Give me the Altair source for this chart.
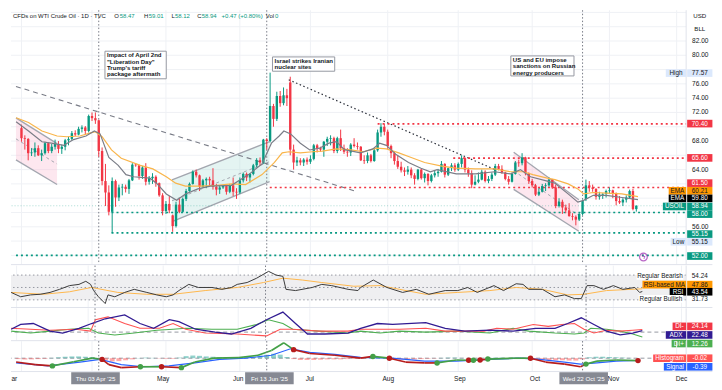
import altair as alt
import pandas as pd

# ============================== DATA ==============================
# One candle per weekday, Mon 3 Mar 2025 ... Thu 13 Nov 2025 (CFD trades on US holidays)
# bar index 0 = Thu 03 Apr 2025
first_bar = -23

opens = [
    69.8, 68.4, 68.3, 66.3, 66.4, 67.0, 66.0, 66.3, 67.7, 66.6, 67.2, 67.6, 66.9, 67.2, 68.1, 68.3, 69.1, 68.9, 69.7, 69.9, 69.4,
    71.5, 71.2, 70.9, 66.6, 62.4, 60.8, 58.1, 62.4, 60.1, 61.5, 61.6, 61.3, 62.5, 64.7, 64.6, 63.1, 64.3, 62.3, 62.8, 63.0, 62.1, 60.4,
    58.2, 59.2, 57.6, 56.1, 59.1, 58.1, 59.9, 61.0, 62.0, 63.7, 63.2, 61.6, 62.5, 62.7, 62.5, 61.6, 61.2, 61.5, 61.7, 60.9, 61.8, 60.9,
    60.8, 62.5, 63.4, 62.9, 63.4, 64.6, 65.3, 65.0, 68.2, 68.0, 72.9, 71.1, 74.3, 73.3, 74.4, 76.2, 66.8, 65.0, 65.3, 65.0, 65.4,
    65.1, 65.5, 67.4, 67.0, 66.8, 67.9, 68.3, 68.4, 66.6, 68.4, 67.0, 66.5, 66.4, 67.5, 67.3, 67.2, 65.3, 65.2, 66.0, 65.2, 66.7, 69.2, 70.0,
    69.3, 67.3, 66.3, 65.2, 64.4, 63.9, 63.7, 64.0, 63.2, 62.7, 64.0, 62.8, 63.4, 62.4, 63.2, 63.5, 63.7, 64.8, 63.3, 64.2, 64.6,
    64.0, 64.8, 65.6, 64.0, 63.5, 61.9, 62.3, 62.6, 63.7, 62.4, 62.7, 63.3, 64.5, 64.1, 63.6, 62.7, 62.3, 63.4, 65.0, 64.9, 65.7, 63.5,
    62.4, 61.8, 60.5, 60.9, 61.7, 61.8, 62.6, 61.5, 58.9, 59.5, 58.7, 58.3, 57.5, 57.4, 57.0, 57.8, 59.9, 61.8, 61.5, 61.3, 60.2, 60.5, 60.6,
    61.0, 61.1, 60.6, 59.6, 59.4, 59.8, 60.1, 61.0, 58.47,
]
highs = [
    70.3, 68.8, 68.4, 67.0, 67.8, 67.4, 66.8, 67.9, 67.8, 67.6, 68.2, 68.0, 67.5, 68.3, 68.6, 69.4, 69.5, 70.0, 70.2, 70.1, 71.7,
    72.0, 72.0, 71.0, 67.1, 64.8, 61.8, 62.9, 62.6, 61.9, 62.0, 61.9, 62.7, 64.9, 64.9, 64.7, 64.5, 64.9, 63.1, 63.5, 63.2, 62.2, 60.7,
    59.6, 60.3, 57.7, 59.5, 60.0, 60.1, 61.3, 62.2, 63.9, 64.0, 63.3, 62.7, 62.9, 63.0, 64.2, 62.0, 61.8, 61.8, 61.8, 62.0, 62.9, 61.4,
    62.9, 63.6, 63.6, 63.5, 64.8, 65.6, 65.7, 68.3, 68.4, 77.57, 73.2, 74.9, 75.0, 75.5, 75.3, 77.0, 67.5, 65.8, 65.6, 65.6, 65.7,
    66.0, 67.6, 67.6, 67.2, 68.0, 68.6, 68.8, 68.6, 68.6, 69.6, 67.5, 67.0, 67.7, 68.4, 67.8, 67.3, 66.0, 66.4, 66.2, 67.0, 69.6, 70.5, 70.4,
    69.6, 67.5, 66.5, 66.0, 65.1, 64.3, 64.5, 64.3, 63.5, 64.1, 64.1, 63.6, 63.5, 63.4, 63.9, 64.1, 65.2, 64.9, 64.3, 64.9, 64.9,
    65.0, 66.0, 65.7, 64.3, 63.9, 63.2, 63.6, 64.0, 63.9, 63.1, 63.6, 64.8, 64.8, 64.6, 63.7, 63.1, 63.6, 65.2, 65.4, 66.3, 65.8, 63.6,
    62.7, 62.0, 61.4, 62.0, 62.1, 62.9, 62.7, 61.9, 60.0, 59.8, 59.1, 59.3, 57.9, 57.6, 58.0, 59.8, 62.6, 62.4, 61.9, 61.4, 60.9, 60.7, 61.2,
    61.5, 61.2, 60.8, 60.3, 60.0, 60.4, 61.2, 61.3, 59.01,
]
lows = [
    67.9, 66.8, 65.3, 65.9, 65.8, 65.9, 65.2, 66.1, 66.3, 66.3, 66.8, 66.3, 66.2, 66.7, 67.4, 68.1, 68.7, 68.8, 69.2, 68.9, 69.2,
    70.8, 70.4, 65.8, 61.8, 58.9, 57.6, 55.15, 58.8, 59.6, 60.4, 60.8, 60.6, 62.4, 64.4, 62.6, 62.7, 61.8, 61.9, 62.0, 61.6, 60.2, 57.6,
    57.8, 57.9, 55.3, 55.9, 57.9, 58.0, 59.6, 60.9, 61.9, 62.9, 61.0, 61.5, 61.4, 61.7, 61.2, 60.4, 60.6, 61.3, 60.5, 60.7, 60.3, 59.9,
    60.6, 62.2, 62.4, 62.2, 63.2, 64.3, 64.5, 64.8, 66.8, 67.8, 70.0, 70.8, 72.8, 73.0, 72.9, 66.0, 64.0, 64.5, 64.6, 64.5, 64.7,
    64.8, 65.3, 66.4, 66.5, 65.8, 67.3, 67.4, 66.3, 66.3, 66.6, 66.2, 65.8, 65.9, 67.1, 66.8, 65.2, 64.8, 64.9, 65.0, 65.1, 66.5, 68.6, 68.8,
    66.9, 65.6, 64.7, 64.1, 63.6, 63.1, 63.3, 62.8, 61.9, 62.5, 62.6, 62.2, 61.8, 62.2, 62.9, 63.0, 63.6, 62.9, 63.1, 63.8, 63.7,
    63.8, 64.3, 63.6, 63.0, 61.4, 61.8, 62.1, 62.5, 62.2, 62.1, 62.4, 63.1, 63.9, 63.4, 62.5, 61.9, 62.2, 63.3, 64.4, 64.6, 63.2, 62.0,
    61.5, 60.3, 60.3, 60.8, 61.0, 61.6, 61.3, 58.6, 58.7, 57.8, 57.9, 57.4, 56.9, 56.2, 56.8, 57.6, 59.6, 60.9, 60.9, 59.8, 59.8, 59.9, 60.1,
    60.6, 60.0, 59.0, 59.2, 58.9, 59.4, 59.9, 58.3, 58.12,
]
closes = [
    68.4, 68.3, 66.3, 66.4, 67.0, 66.0, 66.3, 67.7, 66.6, 67.2, 67.6, 66.9, 67.2, 68.1, 68.3, 69.1, 68.9, 69.7, 69.9, 69.4, 71.5,
    71.2, 70.9, 66.6, 62.4, 60.8, 58.1, 62.4, 60.1, 61.5, 61.6, 61.3, 62.5, 64.7, 64.6, 63.1, 64.3, 62.3, 62.8, 63.0, 62.1, 60.4, 58.2,
    59.2, 58.3, 56.1, 59.1, 58.1, 59.9, 61.0, 62.0, 63.7, 63.2, 61.6, 62.5, 62.7, 62.5, 61.6, 61.2, 61.5, 61.7, 60.9, 61.8, 60.9, 60.8,
    62.5, 63.4, 62.9, 63.4, 64.6, 65.3, 65.0, 68.2, 68.0, 72.9, 71.1, 74.3, 73.3, 74.4, 74.0, 66.8, 65.0, 65.3, 65.0, 65.4, 65.1,
    65.5, 67.4, 67.0, 66.8, 67.9, 68.3, 68.4, 66.6, 68.4, 67.0, 66.5, 66.4, 67.5, 67.3, 67.2, 65.3, 65.2, 66.0, 65.2, 66.7, 69.2, 70.0, 69.3,
    67.3, 66.3, 65.2, 64.4, 63.9, 63.7, 64.0, 63.2, 62.7, 64.0, 62.8, 63.4, 62.4, 63.2, 63.5, 63.7, 64.8, 63.3, 64.2, 64.6, 64.0,
    64.8, 65.6, 64.0, 63.5, 61.9, 62.3, 62.6, 63.7, 62.4, 62.7, 63.3, 64.5, 64.1, 63.6, 62.7, 62.3, 63.4, 65.0, 64.9, 65.7, 63.5, 62.4,
    61.8, 60.5, 60.9, 61.7, 61.8, 62.6, 61.5, 58.9, 59.5, 58.7, 58.3, 57.5, 57.4, 57.0, 57.8, 59.6, 61.8, 61.5, 61.3, 60.2, 60.5, 60.6, 61.0,
    61.1, 60.6, 59.6, 59.4, 59.8, 60.1, 61.0, 58.47, 58.94,
]

# EMA lines read at sampled bars
ema_fast_i = [-24.6, -20.9, -16.9, -14.1, -10.4, -7.5, -3.8, -1.3, 0.4, 3.0, 5.8, 8.1, 10.4, 15.2, 17.2, 20.1, 23.2, 25.8, 29.5, 33.2,
              39.5, 44.6, 48.6, 51.4, 53.7, 55.1, 57.1, 60.0, 62.8, 65.7, 68.5, 70.8, 73.1, 77.9, 81.6, 83.6, 85.6, 88.5, 92.2, 95.9,
              98.7, 100.7, 106.4, 112.1, 117.8, 122.6, 125.5, 128.5, 133.5, 135.8, 139.7, 142.6, 144.3, 147.2, 151.1, 155.7, 160.5]
ema_fast_v = [70.7, 69.4, 67.9, 67.7, 67.4, 68.2, 68.7, 69.4, 69.0, 65.7, 64.6, 63.3, 63.0, 62.8, 62.1, 60.6, 59.7, 60.6, 61.3, 61.7,
              61.8, 63.3, 64.8, 67.7, 68.7, 69.4, 69.0, 67.7, 66.75, 67.0, 67.7, 67.9, 66.8, 66.35, 66.9, 67.7, 67.4, 66.1, 65.0, 64.2,
              63.7, 64.0, 63.4, 63.4, 63.7, 63.4, 64.0, 63.0, 62.4, 62.1, 60.6, 59.45, 59.7, 60.4, 60.4, 60.1, 59.8]
ema_slow_i = [-24.6, -20.9, -16.9, -12.4, -9.5, -5.6, -2.7, -1.0, 1.0, 3.8, 6.7, 12.4, 16.1, 20.1, 22.9, 25.8, 30.3, 35.2, 39.5, 43.7,
              48.6, 52.3, 54.6, 56.6, 60.0, 63.7, 66.5, 70.8, 75.1, 78.8, 82.8, 85.6, 89.3, 93.0, 97.0, 102.1, 106.4, 112.1, 117.8, 122.6,
              126.4, 129.2, 133.5, 135.8, 139.7, 142.6, 144.3, 147.2, 151.1, 155.7, 160.5]
ema_slow_v = [71.26, 70.6, 69.4, 68.7, 68.6, 68.7, 69.1, 69.3, 68.6, 66.75, 65.6, 64.6, 64.1, 63.0, 62.1, 61.7, 61.7, 61.8, 62.0, 61.9,
              63.3, 65.0, 66.35, 66.5, 66.35, 66.5, 66.6, 66.9, 66.75, 66.5, 67.0, 66.9, 66.35, 65.7, 65.0, 64.5, 64.2, 64.1, 64.1, 63.7,
              63.7, 63.3, 62.8, 62.6, 62.0, 61.3, 60.6, 60.8, 60.7, 60.6, 60.21]

# RSI and its moving average
rsi_i = [-24.6, -21.8, -18.9, -16.1, -13.2, -10.4, -7.5, -4.7, -2.7, -1.3, -0.4, 1.0, 3.0, 3.8, 5.8, 8.7, 11.5, 15.2, 18.1, 20.9,
         22.9, 24.6, 27.5, 30.3, 34.3, 37.2, 40.0, 41.7, 44.6, 47.4, 50.9, 53.1, 55.1, 56.0, 58.8, 63.7, 66.5, 69.4, 74.2, 77.1,
         77.9, 81.6, 85.6, 90.2, 94.2, 97.9, 102.7, 106.4, 109.3, 112.1, 117.0, 119.8, 123.5, 125.5, 127.2, 131.2, 134.9, 137.7, 140.6, 142.6,
         144.3, 146.3, 149.1, 152.0, 154.8, 158.3, 159.7, 160.5]
rsi_v = [42, 35, 38, 39, 42, 47, 53, 55, 60, 55, 45, 35, 24, 38, 35, 42, 47, 42, 38, 35,
         38, 45, 55, 50, 50, 47, 50, 55, 58, 65, 76, 70, 68, 47, 45, 50, 55, 53, 47, 45,
         50, 62, 50, 42, 47, 39, 45, 45, 50, 42, 53, 45, 56, 55, 47, 47, 35, 38, 32, 32,
         53, 53, 47, 53, 47, 50, 42, 43.54]
rsima_i = [-24.6, -15.2, -7.5, -1.0, 6.7, 15.2, 22.9, 32.3, 41.7, 49.4, 55.1, 60.8, 66.5, 75.9, 83.6, 89.3, 97.0, 106.4, 115.8,
           123.5, 131.2, 138.6, 143.4, 150.0, 160.5]
rsima_v = [42, 39, 43, 50, 42, 39, 39, 45, 50, 58, 65, 62, 58, 52, 53, 47, 39, 42, 45, 50, 47, 38, 39, 45, 47.86]

# DMI / ADX
adx_i = [-24.6, -21.8, -18.1, -13.2, -9.5, -4.7, -1.0, 3.0, 8.7, 13.2, 17.2, 21.8, 24.6, 29.5, 35.2, 40.0, 45.7, 50.3, 55.1, 58.8,
         62.3, 67.4, 74.2, 77.9, 82.8, 87.3, 97.0, 102.7, 108.4, 115.8, 122.6, 129.2, 134.9, 138.6, 142.6, 146.3, 150.0, 154.0, 157.7, 160.5]
adx_v = [24.5, 32, 33.5, 21.5, 18.5, 26, 33.5, 41, 47, 33.5, 26, 39.5, 36.5, 24.5, 20, 17, 26, 39.5, 51.5, 33.5,
         17, 17, 18.5, 26, 33.5, 32, 35, 26, 21.5, 23, 21.5, 26, 26, 33.5, 42.5, 32, 21.5, 15.5, 18.5, 22.48]
dim_i = [-24.6, -18.9, -13.2, -5.6, -1.3, 0.1, 3.8, 8.7, 13.2, 18.9, 22.9, 26.6, 32.3, 41.7, 50.3, 54.3, 58.0, 65.7, 74.2, 77.9,
         89.3, 97.0, 102.7, 114.1, 117.8, 122.6, 128.5, 132.9, 136.9, 140.6, 143.4, 146.3, 150.0, 154.0, 157.7, 160.5]
dim_v = [26, 24.5, 23, 24.5, 21.5, 39.5, 44, 33.5, 26, 26, 33.5, 24.5, 18.5, 17, 14, 24.5, 24.5, 21.5, 21.5, 24.5,
         24.5, 26, 21.5, 21.5, 26, 24.5, 32, 29, 32, 33.5, 24.5, 18.5, 23, 21.5, 23, 24.14]
dip_i = [-24.6, -18.9, -13.2, -7.5, -1.9, 1.0, 5.8, 11.5, 18.1, 22.9, 26.6, 34.3, 41.7, 47.4, 50.9, 55.1, 58.0, 65.7, 74.2, 77.9,
         83.6, 89.3, 97.0, 106.4, 115.8, 122.6, 127.2, 134.9, 140.6, 143.4, 145.4, 150.0, 154.0, 157.7, 160.5]
dip_v = [21.5, 18.5, 21.5, 24.5, 26, 18.5, 15.5, 18.5, 23, 24.5, 26, 24.5, 24.5, 32, 39.5, 33.5, 24.5, 21.5, 18.5, 21.5,
         18.5, 21.5, 20, 21.5, 18.5, 26, 21.5, 18.5, 17, 18.5, 26, 24.5, 21.5, 17, 12.26]

# MACD line (state = colour of the segment that starts at the point; dot = crossover marker)
macd_i = [-24.6, -18.9, -13.8, -7.5, -1.9, 1.0, 3.0, 6.7, 12.4, 18.7, 24.6, 28.6, 34.3, 41.7, 47.4, 51.4, 55.1, 58.0, 62.8, 70.3,
          77.9, 81.6, 86.5, 91.3, 97.0, 100.7, 106.4, 110.1, 111.5, 113.5, 115.8, 123.5, 128.5, 133.0, 138.7, 143.4, 145.0, 148.3, 154.0, 160.5]
macd_v = [-0.65, -1.1, -1.3, -0.6, 0.0, -0.2, -1.1, -1.6, -1.45, -1.45, -1.6, -0.65, 0.0, 0.1, 0.5, 1.3, 2.6, 1.45, 0.8, 0.5,
          0.0, 0.3, 0.0, -0.65, -0.8, -0.8, -0.3, -0.35, -0.35, -0.3, -0.15, 0.0, 0.0, -0.65, -1.0, -1.45, -1.0, -0.5, -0.3, -0.41]
macd_state = ["d", "d", "u", "u", "u", "d", "d", "d", "u", "d", "u", "u", "u", "u", "u", "u", "u", "d", "d", "d",
              "d", "u", "d", "d", "d", "u", "u", "d", "u", "d", "u", "u", "d", "d", "d", "d", "u", "u", "u", "d"]
macd_dot = ["", "", "g", "", "", "r", "", "", "g", "r", "g", "", "", "", "", "", "", "r", "", "",
            "", "g", "r", "", "", "g", "", "r", "g", "r", "g", "", "r", "", "", "", "g", "", "", "r"]
sig_i = [-24.6, -15.2, -5.6, 0.4, 6.7, 13.2, 20.9, 28.6, 36.0, 43.7, 51.4, 57.1, 62.8, 70.3, 77.9, 87.3, 97.0, 106.4, 115.8,
         125.5, 131.2, 138.6, 143.4, 148.3, 154.0, 160.5]
sig_v = [-0.8, -1.3, -0.65, -0.2, -1.1, -1.45, -1.3, -0.8, -0.2, 0.0, 0.5, 1.6, 1.0, 0.65, 0.15, 0.0, -0.5, -0.5, -0.2,
         0.0, -0.2, -0.65, -1.0, -0.8, -0.5, -0.39]
hist_i = list(range(-24, 161, 2))
hist_v = [-0.15, -0.2, -0.2, -0.15, -0.1, 0.05, 0.15, 0.25, 0.3, 0.3,
          0.25, 0.2, 0.0, -0.35, -0.55, -0.5, -0.35, -0.2, 0.05, 0.1,
          0.05, -0.05, -0.1, -0.1, 0.1, 0.35, 0.45, 0.4, 0.3, 0.25,
          0.2, 0.15, 0.15, 0.2, 0.25, 0.3, 0.45, 0.6, 0.75, 0.6,
          0.2, -0.15, -0.3, -0.3, -0.3, -0.25, -0.2, -0.2, -0.2, -0.15,
          -0.1, -0.05, 0.05, 0.15, 0.1, -0.05, -0.15, -0.25, -0.25, -0.2,
          -0.15, -0.1, -0.05, 0.05, 0.1, 0.1, 0.05, -0.05, 0.03, -0.03,
          0.05, 0.1, 0.1, 0.05, 0.05, 0.05, -0.05, -0.15, -0.25, -0.3,
          -0.35, -0.35, -0.4, -0.4, -0.2, 0.15, 0.25, 0.25, 0.2, 0.15,
          0.1, 0.05, -0.02]

# Horizontal levels (price, first bar)
level_p = [70.40, 65.60, 61.50, 58.00, 55.15, 52.00]
level_from = [83.0, 105.5, 50.9, 3.8, 3.8, -24.64]
level_kind = ["res", "res", "res", "sup", "sup", "sup"]

# Channels (two anchor bars each)
chan_g = ["mar", "mar", "mayjun", "mayjun", "oct", "oct"]
chan_i = [-24.64, -12.4, 21.8, 50.85, 123.5, 142.9]
chan_up = [71.24, 67.64, 62.57, 67.91, 66.44, 59.77]
chan_lo = [65.37, 61.91, 56.71, 62.31, 61.24, 55.37]
chan_kind = ["down", "down", "up", "up", "down", "down"]

# Trend lines
tl_dash_i = [-24.64, 76.5]
tl_dash_p = [75.64, 60.97]
tl_dot_i = [56.55, 117.8]
tl_dot_p = [76.57, 64.03]

# Event markers and notes
event_i = [0, 50, 144]
event_lbl = ["Thu 03 Apr '25", "Fri 13 Jun '25", "Wed 22 Oct '25"]
notes = [
    ["Impact of April 2nd", '"Liberation Day"', "Trump's tariff", "package aftermath"],
    ["Israel strikes Iranian", "nuclear sites"],
    ["US and EU impose", "sanctions on Russian", "energy producers"],
]
note_i0 = [1.85, 51.71, 122.65]
note_i1 = [20.09, 70.23, 141.45]
note_top = [80.57, 79.77, 79.91]
note_bot = [76.71, 77.77, 77.11]

month_i = [-23, -2, 20, 42, 63, 86, 107, 129, 152, 172]
month_lbl = ["May", "Jun", "Jul", "Aug", "Sep", "Oct", "Nov", "Dec"]
month_lbl_i = [20, 42, 63, 86, 107, 129, 152, 172]
price_ticks = [82, 80, 76, 74, 72, 68, 64, 56]

# ============================== LAYOUT ==============================
FONT = "Liberation Sans"
DARK = "#131722"
UP, DN = "#089981", "#f23645"
W, H = 706, 374
SX, SY = W / 722, H / 390
PW = 695 * SX
X0, X1 = -86.5 / 3.51, (695 - 86.5) / 3.51
PAN = {"price": (0, 267), "rsi": (267, 311), "adx": (311, 345), "macd": (345, 377), "time": (377, 390)}


def hgt(p):
    return (PAN[p][1] - PAN[p][0]) * SY


def fx(x):
    return x * SX


def fy(p, y):
    return (y - PAN[p][0]) * SY


XS = alt.Scale(domain=[X0, X1], nice=False, zero=False)


def XF(f):
    return alt.X(f, scale=XS, axis=None)


def YF(f, sc):
    return alt.Y(f, scale=sc, axis=None)


ONE = pd.DataFrame({"k": [0]})


def text_at(x, y, s, color=DARK, size=6.6, align="center", weight="normal", font=FONT):
    return alt.Chart(ONE).mark_text(text=s, align=align, baseline="middle", fontSize=size, font=font,
                                    fontWeight=weight, color=color).encode(x=alt.value(x), y=alt.value(y))


def rect_at(x0, x1, y0, y1, fill):
    return alt.Chart(ONE).mark_rect(fill=fill).encode(x=alt.value(x0), x2=alt.value(x1), y=alt.value(y0), y2=alt.value(y1))


def tag(p, x0, x1, yref, s, fill, color="white", size=6.4, h=8.0):
    out = []
    if fill is not None:
        out.append(rect_at(fx(x0), fx(x1), fy(p, yref - h / 2), fy(p, yref + h / 2), fill))
    out.append(text_at(fx((x0 + x1) / 2), fy(p, yref), s, color, size))
    return out


def vgrid():
    return alt.Chart(pd.DataFrame({"i": month_i})).mark_rule(color="#eff1f5", strokeWidth=1).encode(x=XF("i:Q"))


def events():
    return alt.Chart(pd.DataFrame({"i": event_i})).mark_rule(color="#787b86", strokeWidth=1, strokeDash=[1.5, 2]).encode(x=XF("i:Q"))


def frame(p):
    return [
        alt.Chart(ONE).mark_rule(color="#e0e3eb").encode(x=alt.value(0), x2=alt.value(W), y=alt.value(hgt(p))),
        alt.Chart(ONE).mark_rule(color="#e0e3eb").encode(x=alt.value(PW), y=alt.value(0), y2=alt.value(hgt(p))),
    ]


# ------------------------------ price pane ------------------------------
YP = alt.Scale(domain=[50.707, 86.307], nice=False, zero=False)
cd = pd.DataFrame({"i": list(range(first_bar, first_bar + len(closes))), "o": opens, "h": highs, "l": lows, "c": closes})
cd["col"] = [UP if c >= o else DN for o, c in zip(opens, closes)]

chd = pd.DataFrame({"g": chan_g, "i": chan_i, "up": chan_up, "lo": chan_lo})
chd["fc"] = ["#f8bbd0" if k == "down" else "#b2dfdb" for k in chan_kind]
chd["mid"] = (chd.up + chd.lo) / 2
chl = chd.melt(id_vars=["g", "i"], value_vars=["up", "lo"], var_name="side", value_name="p")
chl["key"] = chl.g + chl.side

lv = pd.DataFrame({"p": level_p, "i0": level_from})
lv["col"] = [DN if k == "res" else UP for k in level_kind]

nd = pd.DataFrame({"i0": note_i0, "i1": note_i1, "p0": note_top, "p1": note_bot})
nt_rows = []
for n, lines in enumerate(notes):
    for k, s in enumerate(lines):
        nt_rows.append({"i": note_i0[n] + 0.6, "p": note_top[n] - (4.5 + 6.6 * k) / 7.5, "t": s})
nt = pd.DataFrame(nt_rows)

pt = pd.DataFrame({"p": price_ticks})
pt["t"] = [f"{v:.2f}" for v in price_ticks]

P = "price"
pl = [
    alt.Chart(pd.DataFrame({"p": list(range(52, 87, 2))})).mark_rule(color="#eff1f5").encode(y=YF("p:Q", YP)),
    vgrid(),
    alt.Chart(chd).mark_area(opacity=0.35, clip=True).encode(x=XF("i:Q"), y=YF("lo:Q", YP), y2="up:Q",
                                                             color=alt.Color("fc:N", scale=None), detail="g:N"),
    alt.Chart(chl).mark_line(color="#a3a6af", strokeWidth=1.3, clip=True).encode(x=XF("i:Q"), y=YF("p:Q", YP), detail="key:N"),
    alt.Chart(chd).mark_line(color="#a3a6af", strokeWidth=1, strokeDash=[3, 3], clip=True).encode(x=XF("i:Q"), y=YF("mid:Q", YP), detail="g:N"),
    alt.Chart(pd.DataFrame({"i": tl_dash_i, "p": tl_dash_p})).mark_line(color="#787b86", strokeWidth=1.1, strokeDash=[5, 4], clip=True).encode(
        x=XF("i:Q"), y=YF("p:Q", YP)),
    alt.Chart(pd.DataFrame({"i": tl_dot_i, "p": tl_dot_p})).mark_line(color="#2a2e39", strokeWidth=1.2, strokeDash=[1.5, 2.5], clip=True).encode(
        x=XF("i:Q"), y=YF("p:Q", YP)),
    alt.Chart(pd.DataFrame({"p": [58.94]})).mark_rule(color=UP, opacity=0.35, strokeDash=[1, 2]).encode(y=YF("p:Q", YP)),
    alt.Chart(lv).mark_rule(strokeWidth=1.7, strokeDash=[2, 3]).encode(x=XF("i0:Q"), x2=alt.value(PW), y=YF("p:Q", YP),
                                                                    color=alt.Color("col:N", scale=None)),
    events(),
    alt.Chart(cd).mark_rule(strokeWidth=1).encode(x=XF("i:Q"), y=YF("l:Q", YP), y2="h:Q", color=alt.Color("col:N", scale=None)),
    alt.Chart(cd).mark_bar(size=2.4).encode(x=XF("i:Q"), y=YF("o:Q", YP), y2="c:Q", color=alt.Color("col:N", scale=None)),
    alt.Chart(pd.DataFrame({"i": ema_slow_i, "v": ema_slow_v})).mark_line(color="#f9b54a", strokeWidth=1.2).encode(x=XF("i:Q"), y=YF("v:Q", YP)),
    alt.Chart(pd.DataFrame({"i": ema_fast_i, "v": ema_fast_v})).mark_line(color="#7a7d87", strokeWidth=1.2).encode(x=XF("i:Q"), y=YF("v:Q", YP)),
    alt.Chart(nd).mark_rect(fill="white", stroke="#9598a1", strokeWidth=1).encode(x=XF("i0:Q"), x2="i1:Q", y=YF("p0:Q", YP), y2="p1:Q"),
    alt.Chart(nt).mark_text(align="left", baseline="middle", fontSize=6.1, fontWeight="bold", font=FONT, color=DARK).encode(
        x=XF("i:Q"), y=YF("p:Q", YP), text="t:N"),
    alt.Chart(pt).mark_text(align="center", baseline="middle", fontSize=6.6, font=FONT, color=DARK).encode(
        x=alt.value(fx(709.5)), y=YF("p:Q", YP), text="t:N"),
]
pl += frame(P)
pl += [text_at(fx(709), fy(P, 6), "USD", DARK, 6.2), text_at(fx(709), fy(P, 19.5), "BLL", DARK, 6.2)]
# header (own-pixel layout)
hy = fy(P, 6)
HF = 6.0
pl += [text_at(2, hy, "CFDs on WTI Crude Oil \u00b7 1D \u00b7 TVC", DARK, HF, "left")]
for letter, lx, num, nx in [("O", 104, "58.47", 109.5), ("H", 134, "59.01", 138.6), ("L", 161.5, "58.12", 165), ("C", 187.5, "58.94", 192)]:
    pl += [text_at(lx, hy, letter, DARK, HF, "left"), text_at(nx, hy, num, UP, HF, "left")]
pl += [text_at(212, hy, "+0.47 (+0.80%)", UP, HF, "left"), text_at(256.5, hy, "Vol", DARK, HF, "left"),
       text_at(265.8, hy, "0", UP, HF, "left")]
# price-scale tags
LB = "#dbe8fc"
for args in [
    (674, 695, 66, "High", LB, DARK), (696, 722, 66, "77.57", LB, DARK),
    (696, 722, 119, "70.40", DN, "white"), (696, 722, 155, "65.60", DN, "white"),
    (696, 722, 181.5, "61.50", DN, "white"),
    (677, 695, 189.5, "EMA", "#ff9800", DARK), (696, 722, 189.5, "60.21", "#ff9800", DARK),
    (677, 695, 197.5, "EMA", "#000000", "white"), (696, 722, 197.5, "59.80", "#000000", "white"),
    (671, 695, 206, "USOIL", UP, "white"), (696, 722, 206, "58.94", UP, "white"),
    (696, 722, 214, "58.00", UP, "white"), (696, 722, 235, "55.15", UP, "white"),
    (679, 695, 243, "Low", LB, DARK), (696, 722, 243, "55.15", LB, DARK),
    (696, 722, 258, "52.00", UP, "white"),
]:
    x0, x1, yr, s, fill, col = args
    pl += tag(P, x0, x1, yr, s, fill, col)
# alert icon
pl += [alt.Chart(ONE).mark_point(shape="circle", size=60, filled=False, color="#9c27b0", strokeWidth=1.2).encode(
    x=alt.value(fx(651)), y=alt.value(fy(P, 259))),
    text_at(fx(651), fy(P, 259.5), "\u03df", "#9c27b0", 7, font="DejaVu Sans")]
price = alt.layer(*pl).properties(width=PW, height=hgt(P))

# ------------------------------ RSI pane ------------------------------
R = "rsi"
YR = alt.Scale(domain=[17.7, 85.4], nice=False, zero=False)
rl = [
    vgrid(),
    alt.Chart(pd.DataFrame({"a": [70], "b": [30]})).mark_rect(color="#efeff1").encode(
        x=alt.value(0), x2=alt.value(PW), y=YF("a:Q", YR), y2="b:Q"),
    alt.Chart(pd.DataFrame({"p": [70, 50, 30]})).mark_rule(color="#9598a1", strokeDash=[1.5, 2.5]).encode(y=YF("p:Q", YR)),
    alt.Chart(pd.DataFrame({"i": rsima_i, "v": rsima_v})).mark_line(color="#ffb74d", strokeWidth=1).encode(x=XF("i:Q"), y=YF("v:Q", YR)),
    alt.Chart(pd.DataFrame({"i": rsi_i, "v": rsi_v})).mark_line(color="#3a3a3a", strokeWidth=1).encode(x=XF("i:Q"), y=YF("v:Q", YR)),
    events(),
]
rl += frame(R)
for args in [
    (644, 692, 278, "Regular Bearish", "white", DARK), (696, 722, 278, "54.24", None, DARK),
    (650, 695, 287, "RSI-based MA", "#ff9800", DARK), (696, 722, 287, "47.86", "#ff9800", DARK),
    (678, 695, 294.5, "RSI", "#000000", "white"), (696, 722, 294.5, "43.54", "#000000", "white"),
    (646, 692, 302, "Regular Bullish", "white", DARK), (696, 722, 302, "31.73", None, DARK),
]:
    x0, x1, yr, s, fill, col = args
    rl += tag(R, x0, x1, yr, s, fill, col)
rsi = alt.layer(*rl).properties(width=PW, height=hgt(R))

# ------------------------------ DMI pane ------------------------------
A = "adx"
YA = alt.Scale(domain=[6.5, 57.5], nice=False, zero=False)
al = [
    vgrid(),
    alt.Chart(pd.DataFrame({"p": [20]})).mark_rule(color="#9598a1", strokeDash=[4, 3]).encode(y=YF("p:Q", YA)),
    alt.Chart(pd.DataFrame({"i": dip_i, "v": dip_v})).mark_line(color="#4caf50", strokeWidth=1.1).encode(x=XF("i:Q"), y=YF("v:Q", YA)),
    alt.Chart(pd.DataFrame({"i": dim_i, "v": dim_v})).mark_line(color="#ff5252", strokeWidth=1.1).encode(x=XF("i:Q"), y=YF("v:Q", YA)),
    alt.Chart(pd.DataFrame({"i": adx_i, "v": adx_v})).mark_line(color="#311b92", strokeWidth=1.3).encode(x=XF("i:Q"), y=YF("v:Q", YA)),
    events(),
]
al += frame(A)
for args in [
    (681, 695, 330, "DI-", "#f23645", "white"), (696, 722, 330, "24.14", "#f23645", "white"),
    (674, 695, 339, "ADX", "#311b92", "white"), (696, 722, 339, "22.48", "#311b92", "white"),
    (680, 695, 348, "DI+", "#4caf50", "white"), (696, 722, 348, "12.26", "#4caf50", "white"),
]:
    x0, x1, yr, s, fill, col = args
    al += tag(A, x0, x1, yr, s, fill, col)
adx = alt.layer(*al).properties(width=PW, height=hgt(A))

# ------------------------------ MACD pane ------------------------------
M = "macd"
YM = alt.Scale(domain=[-2.26, 2.90], nice=False, zero=False)
hd = pd.DataFrame({"i": hist_i, "h": hist_v, "z": 0.0})
hd["col"] = ["#26a69a" if v >= 0 else "#ff5252" for v in hist_v]
seg = pd.DataFrame({"i": macd_i[:-1], "i2": macd_i[1:], "v": macd_v[:-1], "v2": macd_v[1:], "s": macd_state[:-1]})
seg["col"] = ["#43a047" if s == "u" else "#b71c1c" for s in seg.s]
dots = pd.DataFrame({"i": macd_i, "v": macd_v, "d": macd_dot})
dots = dots[dots.d != ""].copy()
dots["col"] = ["#43a047" if d == "g" else "#b71c1c" for d in dots.d]
ml = [
    vgrid(),
    alt.Chart(pd.DataFrame({"p": [0]})).mark_rule(color="#9598a1", strokeDash=[4, 3]).encode(y=YF("p:Q", YM)),
    alt.Chart(hd).mark_bar(size=5.0, opacity=0.5).encode(x=XF("i:Q"), y=YF("h:Q", YM), y2="z:Q", color=alt.Color("col:N", scale=None)),
    alt.Chart(pd.DataFrame({"i": sig_i, "v": sig_v})).mark_line(color="#2962ff", strokeWidth=1.2).encode(x=XF("i:Q"), y=YF("v:Q", YM)),
    alt.Chart(seg).mark_rule(strokeWidth=1.7).encode(x=XF("i:Q"), x2="i2:Q", y=YF("v:Q", YM), y2="v2:Q", color=alt.Color("col:N", scale=None)),
    alt.Chart(dots).mark_circle(size=30, opacity=1).encode(x=XF("i:Q"), y=YF("v:Q", YM), color=alt.Color("col:N", scale=None)),
    events(),
]
ml += frame(M)
for args in [
    (661, 695, 363, "Histogram", "#ff5252", "white"), (696, 722, 363, "-0.02", "#ff5252", "white"),
    (672, 695, 372, "Signal", "#2962ff", "white"), (696, 722, 372, "-0.39", "#2962ff", "white"),
]:
    x0, x1, yr, s, fill, col = args
    ml += tag(M, x0, x1, yr, s, fill, col)
macd = alt.layer(*ml).properties(width=PW, height=hgt(M))

# ------------------------------ time axis ------------------------------
T = "time"
event_box_x = [87, 266, 589.5]   # label box centres on the time scale (reference pixels)
tl = [
    alt.Chart(pd.DataFrame({"i": month_lbl_i, "t": month_lbl})).mark_text(baseline="middle", fontSize=6.6, font=FONT, color=DARK).encode(
        x=XF("i:Q"), y=alt.value(fy(T, 384)), text="t:N"),
    text_at(fx(0.5), fy(T, 384), "ar", DARK, 6.6, "left"),
]
for bx, s in zip(event_box_x, event_lbl):
    cx = fx(bx)
    tl.append(rect_at(cx - fx(25), cx + fx(25), fy(T, 377.5), fy(T, 390), "#868993"))
    tl.append(text_at(cx, fy(T, 384), s, "white", 6.2))
taxis = alt.layer(*tl).properties(width=PW, height=hgt(T))

chart = (
    alt.vconcat(price, rsi, adx, macd, taxis, spacing=0)
    .resolve_scale(x="independent", y="independent", color="independent")
    .properties(padding=0, bounds="flush")
    .configure(background="white")
    .configure_view(stroke="transparent")
)
chart.save("out.html", embed_options={"renderer": "svg", "actions": False})
